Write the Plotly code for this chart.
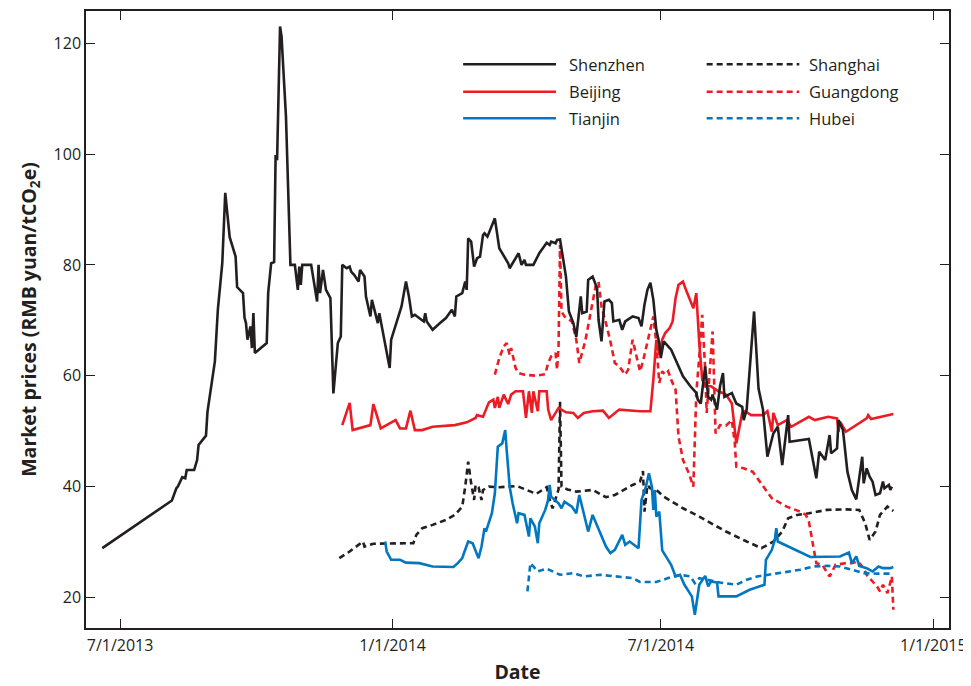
import pandas as pd
import plotly.graph_objects as go

# Dates are given as days since 2013-07-01
BASE = pd.Timestamp("2013-07-01")

shenzhen_day = [-12, 35, 38, 39, 42, 44, 45, 50, 52, 53, 58, 59, 64, 66, 69, 71, 74, 78, 79, 83, 84, 85, 86, 88, 89, 90, 91,
                99, 100, 101, 102, 104, 105, 106, 108, 109, 112, 115, 118, 120, 121, 122, 123, 129, 133, 134, 135, 137, 139,
                142, 144, 147, 149, 150, 153, 155, 156, 158, 161, 162, 165, 166, 169, 170, 174, 175, 177, 179, 182, 183, 187,
                190, 193, 195, 197, 199, 205, 206, 207, 211, 216, 220, 224, 226, 227, 231, 233, 234, 235, 237, 239, 241, 243,
                245, 246, 248, 253, 255, 256, 260, 262, 263, 265, 269, 271, 273, 274, 279, 283, 288, 290, 291, 294, 295, 297,
                301, 303, 306, 308, 311, 312, 315, 316, 319, 322, 323, 325, 327, 330, 332, 333, 337, 339, 341, 346, 350, 352,
                354, 356, 358, 360, 362, 364, 365, 367, 372, 376, 380, 385, 389, 390, 392, 395, 397, 399, 400, 403, 405, 407,
                408, 413, 416, 420, 421, 423, 428, 431, 434, 437, 440, 441, 444, 447, 451, 452, 465, 470, 472, 476, 479, 480,
                484, 485, 488, 489, 491, 494, 497, 498, 501, 502, 504, 506, 508, 510, 513, 515, 516, 519, 520, 521]
shenzhen_val = [28.9, 37.5, 39.7, 40.0, 41.7, 41.5, 43.0, 43.0, 44.8, 47.5, 49.2, 53.5, 62.6, 71.9, 80.3, 93.0, 85.0, 81.5, 76.0,
                74.9, 70.5, 69.5, 66.5, 68.9, 65.0, 71.3, 64.1,
                65.9, 75.0, 77.3, 80.3, 80.5, 99.8, 98.9, 123.0, 121.2, 106.7, 80.0, 80.0, 75.5, 79.7, 76.4, 80.0, 80.0, 73.4,
                80.0, 74.9, 79.1, 75.5,
                74.0, 56.8, 65.9, 67.1, 80.0, 79.4, 79.7, 78.8, 78.2, 77.0, 79.1, 77.9, 74.3, 70.7, 73.7, 69.5, 71.3, 68.6,
                65.3, 61.4, 66.5, 70.1,
                72.5, 77.0, 74.3, 70.7, 71.0, 69.8, 71.3, 69.8, 68.3, 69.5, 70.4, 71.9, 70.7, 74.3, 74.9, 77.0, 75.5, 84.8,
                84.2, 79.7, 81.2, 81.5,
                85.4, 85.7, 85.1, 88.4, 84.5, 83.0, 81.2, 80.3, 79.4, 80.3, 82.1, 80.0, 80.9, 80.0, 80.0, 82.1, 84.0, 83.6,
                84.2, 83.9, 84.5, 84.6,
                77.9, 71.6, 69.5, 67.0, 74.3, 71.3, 71.6, 77.3, 77.9, 75.8, 70.1, 66.2, 73.4, 73.7, 73.1, 69.8, 70.1, 68.3,
                69.8, 70.7, 70.4, 68.9,
                72.8, 75.5, 76.8, 73.7, 68.3, 65.9, 63.2, 66.2, 64.7, 62.3, 59.9, 58.1, 56.9, 55.7, 55.0, 61.7, 56.2, 55.7,
                56.6, 53.9, 58.1, 60.5,
                56.2, 56.9, 55.0, 54.4, 52.0, 53.9, 71.6, 57.7, 53.9, 45.4, 48.4, 49.6, 50.8, 43.9, 52.9, 48.1, 48.6, 41.5,
                46.3, 44.8, 49.3, 46.0,
                46.9, 52.0, 50.2, 47.5, 42.7, 39.4, 37.7, 39.7, 45.4, 40.6, 43.3, 41.8, 40.9, 38.5, 38.8, 40.9, 39.7, 40.3,
                39.4, 40.0]

beijing_day = [150, 155, 157, 169, 171, 176, 186, 189, 193, 196, 199, 204, 211, 226, 234, 240, 241, 245, 249, 252, 253, 255,
               256, 259, 262, 264, 267, 272, 274, 276, 278, 279, 282, 283, 288, 289, 291, 294, 296, 301, 306, 309, 313, 319,
               326, 330, 337, 351, 358, 360, 362, 364, 366, 368, 371, 373, 375, 377, 380, 382, 387, 389, 391, 393, 395, 399,
               404, 409, 413, 416, 420, 422, 426, 434, 437, 440, 441, 444, 450, 453, 465, 469, 478, 484, 485, 486, 490, 504,
               505, 507, 513, 522]
beijing_val = [51.1, 55.1, 50.2, 51.1, 54.9, 50.5, 52.0, 50.5, 50.5, 53.7, 50.2, 50.2, 50.8, 51.1, 51.6, 52.4, 52.9, 52.6,
               55.2, 55.7, 54.2, 56.2,
               54.2, 56.6, 54.9, 56.6, 57.2, 57.2, 52.4, 57.2, 53.3, 57.2, 53.6, 57.2, 57.2, 53.9, 52.0, 53.3, 54.2, 53.4,
               53.3, 52.4, 53.3, 53.6,
               53.7, 52.4, 53.9, 53.6, 53.6, 59.3, 66.5, 63.8, 66.5, 67.7, 68.6, 69.8, 74.0, 76.4, 77.0, 75.5, 72.2, 74.9,
               65.9, 59.3, 58.1, 58.1,
               57.2, 56.6, 55.0, 47.8, 53.3, 53.6, 52.9, 52.9, 53.6, 49.9, 53.3, 51.1, 52.0, 50.8, 52.6, 52.0, 52.6, 52.3,
               49.9, 51.7, 49.9, 52.3,
               52.9, 52.2, 52.6, 53.1]

tianjin_day = [179, 180, 183, 189, 193, 202, 211, 225, 228, 231, 232, 235, 238, 242, 244, 246, 247, 251, 253, 255, 258, 260,
               261, 263, 265, 268, 269, 273, 276, 277, 280, 282, 283, 287, 289, 290, 291, 296, 298, 300, 305, 308, 310, 313,
               316, 319, 324, 328, 331, 334, 339, 341, 344, 348, 350, 352, 355, 357, 359, 360, 361, 362, 364, 366, 370, 372,
               375, 378, 381, 383, 386, 388, 390, 391, 395, 397, 399, 403, 404, 416, 425, 435, 436, 440, 442, 443, 444, 466,
               486, 492, 494, 497, 499, 504, 508, 512, 515, 520, 522]
tianjin_val = [30.1, 28.3, 26.8, 26.8, 26.3, 26.2, 25.6, 25.5, 26.2, 27.1, 27.9, 30.1, 29.8, 27.1, 29.2, 32.5, 31.9, 35.2,
               38.8, 47.2, 47.8, 50.2,
               46.6, 40.0, 37.0, 33.4, 35.2, 34.9, 31.0, 34.3, 32.8, 29.8, 33.4, 35.8, 37.6, 40.3, 38.2, 37.0, 36.1, 37.3,
               36.4, 35.2, 38.5, 34.9,
               31.9, 34.9, 31.6, 29.2, 28.0, 28.6, 31.3, 29.5, 30.1, 29.2, 28.9, 37.6, 40.0, 42.4, 40.0, 35.8, 39.4, 34.6,
               35.5, 28.5, 26.8, 25.9,
               23.8, 24.1, 22.3, 21.4, 20.2, 16.9, 20.2, 22.3, 23.9, 22.0, 22.9, 22.7, 20.2, 20.2, 21.4, 22.3, 26.8, 28.6,
               30.4, 32.5, 30.1, 27.3,
               27.4, 28.1, 26.2, 27.4, 25.7, 25.3, 24.7, 25.6, 25.3, 25.3, 25.5]

shanghai_day = [148, 155, 164, 165, 171, 182, 198, 200, 204, 211, 220, 226, 231, 233, 235, 237, 239, 240, 242, 244, 245,
                249, 256, 268, 275, 281, 288, 290, 292, 296, 297, 298, 302, 308, 319, 325, 328, 334, 339, 346, 351, 353,
                354, 356, 358, 362, 367, 380, 391, 409, 423, 433, 441, 447, 451, 457, 465, 477, 490, 499, 503, 506, 510,
                513, 518, 522]
shanghai_val = [27.1, 28.3, 30.1, 29.2, 29.7, 29.7, 29.8, 31.3, 32.5, 33.1, 34.0, 34.9, 36.4, 40.0, 44.5, 40.6, 37.6, 40.3,
                39.9, 37.6, 39.4,
                40.0, 39.9, 40.1, 39.4, 38.7, 39.9, 37.6, 36.1, 39.5, 55.3, 40.0, 39.5, 39.1, 39.4, 38.5, 38.1, 38.5, 39.3,
                40.3, 40.9, 42.8,
                35.5, 40.3, 39.7, 39.4, 38.2, 36.1, 34.6, 31.9, 30.1, 28.9, 30.1, 31.9, 34.3, 34.9, 35.2, 35.8, 35.9, 35.8,
                33.4, 30.4, 31.9,
                34.9, 36.4, 35.6]

guangdong_day = [253, 256, 259, 261, 263, 264, 267, 269, 273, 281, 287, 289, 291, 294, 295, 296, 297, 298, 300, 305, 308,
                 310, 314, 317, 321, 323, 325, 328, 331, 334, 337, 341, 343, 346, 351, 353, 357, 360, 362, 364, 366, 368,
                 370, 372, 375, 377, 380, 384, 387, 388, 389, 391, 393, 395, 396, 398, 400, 401, 402, 405, 409, 413, 415,
                 416, 421, 427, 432, 440, 450, 459, 463, 465, 468, 470, 474, 479, 483, 490, 494, 498, 502, 504, 511, 513,
                 515, 518, 519, 521, 522]
guangdong_val = [60.2, 63.2, 65.3, 65.9, 63.8, 65.0, 61.4, 60.5, 60.2, 60.0, 60.3, 62.3, 63.5, 64.1, 61.1, 65.3, 83.6, 71.6,
                 70.7, 69.8, 66.5,
                 62.3, 66.2, 70.7, 76.1, 77.0, 72.5, 69.5, 66.2, 62.3, 61.7, 60.2, 61.1, 66.5, 60.8, 62.6, 67.1, 70.7,
                 65.9, 58.7, 60.8, 60.2,
                 60.8, 59.3, 57.5, 49.0, 44.8, 42.4, 40.0, 47.2, 56.9, 63.5, 71.0, 61.1, 53.3, 60.5, 68.0, 59.3, 49.6,
                 51.1, 51.0, 52.0, 47.8,
                 43.6, 43.3, 42.7, 40.9, 37.9, 36.4, 35.5, 34.9, 33.7, 29.2, 26.2, 25.9, 23.8, 25.9, 26.2, 26.2, 26.5,
                 25.3, 24.1, 22.0, 21.1,
                 22.3, 20.8, 21.7, 23.8, 17.8]

hubei_day = [275, 277, 279, 282, 288, 297, 306, 313, 324, 337, 346, 351, 362, 370, 378, 385, 388, 391, 405, 416, 423, 430,
             441, 450, 459, 468, 477, 486, 495, 502, 511, 522]
hubei_val = [21.1, 26.2, 25.6, 24.7, 25.2, 24.1, 24.4, 23.8, 24.1, 23.8, 23.5, 22.8, 22.8, 23.5, 24.1, 23.8, 22.6, 23.5,
             22.7, 22.3, 23.2, 23.8, 24.3, 24.7, 25.0, 25.6, 25.7, 25.6, 25.0, 24.4, 24.3, 24.3]

tick_dates = ["2013-07-01", "2014-01-01", "2014-07-01", "2015-01-01"]
tick_labels = ["7/1/2013", "1/1/2014", "7/1/2014", "1/1/2015"]
y_ticks = [20, 40, 60, 80, 100, 120]

BLACK = "#231F20"
RED = "#ED1C24"
BLUE = "#0077C0"
DASH = "6px,4px"
FONT = "Open Sans"

series = [
    ("Shenzhen", shenzhen_day, shenzhen_val, BLACK, "solid"),
    ("Beijing", beijing_day, beijing_val, RED, "solid"),
    ("Tianjin", tianjin_day, tianjin_val, BLUE, "solid"),
    ("Shanghai", shanghai_day, shanghai_val, BLACK, DASH),
    ("Guangdong", guangdong_day, guangdong_val, RED, DASH),
    ("Hubei", hubei_day, hubei_val, BLUE, DASH),
]

def to_dates(days):
    return BASE + pd.to_timedelta(days, unit="D")

fig = go.Figure()
# draw order: dashed first, then solid on top
for name, d, v, c, dash in [series[3], series[4], series[5], series[1], series[2], series[0]]:
    fig.add_trace(go.Scatter(x=to_dates(d), y=v, mode="lines", name=name,
                             line=dict(color=c, width=2.6, dash=dash), showlegend=False))

# manual legend (two columns, long line samples)
col_x = [(0.437, 0.5446, 0.557), (0.7192, 0.8265, 0.8351)]
row_y = [0.9136, 0.8692, 0.8261]
for i, (name, d, v, c, dash) in enumerate(series):
    col, row = divmod(i, 3)
    x0, x1, xt = col_x[col]
    y = row_y[row]
    fig.add_shape(type="line", xref="paper", yref="paper", x0=x0, x1=x1, y0=y, y1=y,
                  line=dict(color=c, width=2.6, dash=dash))
    fig.add_annotation(xref="paper", yref="paper", x=xt, y=y, text=name, showarrow=False,
                       xanchor="left", yanchor="middle", font=dict(family=FONT, size=16.5, color=BLACK))

axis_common = dict(showline=True, linecolor=BLACK, linewidth=1.5, mirror="ticks", ticks="inside",
                   ticklen=9, tickwidth=1, tickcolor=BLACK, showgrid=False, zeroline=False, automargin=False,
                   tickfont=dict(family=FONT, size=16, color=BLACK))

# The page body adds an 8px offset, so the figure is 963x678 drawn from (8, 8)
fig.update_layout(
    width=963, height=678,
    margin=dict(l=78, r=22, t=3, b=58),
    plot_bgcolor="white", paper_bgcolor="white",
    xaxis=dict(range=["2013-06-08", "2015-01-11 14:00"], tickvals=tick_dates, ticktext=tick_labels,
               title=dict(text="Date", font=dict(family=FONT, size=19.5, color=BLACK, weight="bold"), standoff=10),
               ticklabelstandoff=2, **axis_common),
    yaxis=dict(range=[14.5, 125.8], tickvals=y_ticks,
               title=dict(text="Market prices (RMB yuan/tCO<sub>2</sub>e)",
                          font=dict(family=FONT, size=19.5, color=BLACK, weight="bold"), standoff=12),
               ticklabelstandoff=0, **axis_common),
)

fig.write_html("out.html")
